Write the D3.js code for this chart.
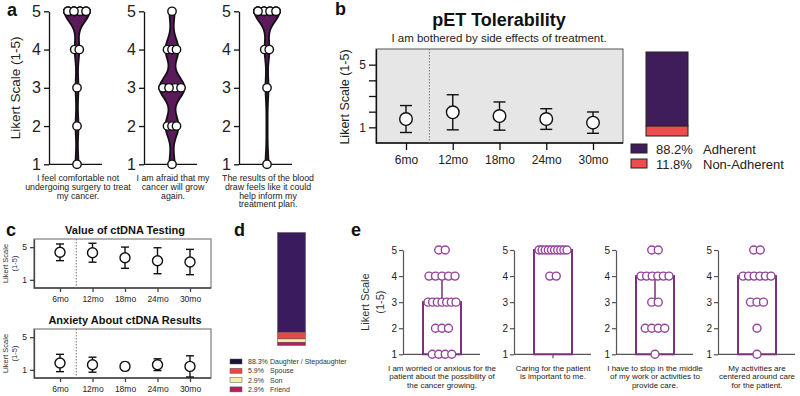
<!DOCTYPE html>
<html><head><meta charset="utf-8">
<script src="https://cdn.jsdelivr.net/npm/d3@7"></script>
<style>
body{margin:0;background:#fff;}
svg{display:block;font-family:Arial,"Liberation Sans",Helvetica,sans-serif;}
</style></head><body><svg id="chart" width="800" height="396"></svg>
<script>
// ---------- data ----------
const likertLevels = [1, 2, 3, 4, 5];
// panel a: response counts at Likert levels 1..5
const aQuestions = [
  ["I feel comfortable not", "undergoing surgery to treat", "my cancer."],
  ["I am afraid that my", "cancer will grow", "again."],
  ["The results of the blood", "draw feels like it could", "help inform my", "treatment plan."]
];
const aCountsQ1 = [1, 1, 1, 2, 14];
const aCountsQ2 = [1, 3, 6, 3, 1];
const aCountsQ3 = [1, 0, 1, 2, 13];
// panel b
const timepoints = ["6mo", "12mo", "18mo", "24mo", "30mo"];
const petMean = [1.53, 1.96, 1.72, 1.53, 1.30];
const petSD = [0.86, 1.12, 0.90, 0.66, 0.68];
const adherenceLabels = ["Adherent", "Non-Adherent"];
const adherencePct = [88.2, 11.8];
// panel c
const ctValueMean = [4.37, 4.32, 3.71, 3.34, 3.18];
const ctValueSD = [1.02, 1.16, 1.30, 1.59, 1.55];
const ctAnxMean = [1.84, 1.63, 1.42, 1.63, 1.42];
const ctAnxSD = [1.06, 0.92, 0.49, 0.72, 1.30];
// panel d
const relationLabels = ["Daughter / Stepdaughter", "Spouse", "Son", "Friend"];
const relationPct = [88.3, 5.9, 2.9, 2.9];
// panel e
const eQuestions = [
  ["I am worried or anxious for the", "patient about the possibility of", "the cancer growing."],
  ["Caring for the patient", "is important to me."],
  ["I have to stop in the middle", "of my work or activities to", "provide care."],
  ["My activities are", "centered around care", "for the patient."]
];
const eCountsQ1 = [4, 3, 7, 5, 2];
const eCountsQ2 = [0, 0, 0, 2, 10];
const eCountsQ3 = [1, 4, 2, 6, 2];
const eCountsQ4 = [1, 1, 3, 6, 2];
const eMedian = [3, 5, 4, 4];
const eLowerQ = [3, 5, 3, 4];
const eUpperQ = [4, 5, 4, 4];

// ---------- styles ----------
const violinFill = "#5b1b5b";
const bPurple = "#3f1c5a", bRed = "#ef4d4d";
const relColors = ["#3a1c5e", "#e5493f", "#f4f0a6", "#b51d5c"];
const ePurple = "#7e2f7e", ePoint = "#93449a";
const narrow = "'Liberation Sans Narrow','Arial Narrow',Arial,sans-serif";

const svg = d3.select("#chart");
function panelLabel(t, x, y) {
  svg.append("text").attr("x", x).attr("y", y).attr("font-weight", "bold")
    .attr("font-size", 18).attr("fill", "#111").text(t);
}
function multiline(lines, cx, y0, dy, size, fam) {
  const t = svg.append("text").attr("text-anchor", "middle").attr("font-size", size)
    .attr("fill", "#222").attr("font-family", fam || null);
  lines.forEach((l, i) => t.append("tspan").attr("x", cx).attr("y", y0 + i * dy).text(l));
}

// ---------- panel a ----------
panelLabel("a", 7, 16);
const aY = d3.scaleLinear().domain([1, 5]).range([164.3, 11.3]);
const aAxisX = [49, 144, 239];
const aCounts = [aCountsQ1, aCountsQ2, aCountsQ3];
svg.append("text").attr("transform", `translate(20,${(aY(1) + aY(5)) / 2}) rotate(-90)`)
  .attr("text-anchor", "middle").attr("font-size", 13.5).attr("fill", "#222").text("Likert Scale (1-5)");

aAxisX.forEach((ax, qi) => {
  const g = svg.append("g").attr("transform", `translate(${ax},0)`).style("color", "#111");
  g.call(d3.axisLeft(aY).tickValues(likertLevels).tickFormat(d3.format("d")).tickSize(5).tickPadding(3).tickSizeOuter(0))
    .call(s => s.selectAll("text").attr("font-size", 16).attr("fill", "#222"))
    .call(s => s.selectAll("path,line").attr("stroke-width", 1.3));
  const cx = ax + 28;
  svg.append("line").attr("x1", ax).attr("x2", ax + 53).attr("y1", aY(1)).attr("y2", aY(1))
    .attr("stroke", "#111").attr("stroke-width", 1.3);
  svg.append("line").attr("x1", cx).attr("x2", cx).attr("y1", aY(1)).attr("y2", aY(1) + 4)
    .attr("stroke", "#111").attr("stroke-width", 1.3);
  // violin via KDE
  const counts = aCounts[qi];
  const bw = 0.27;
  const dens = v => d3.sum(counts, (c, i) => c * Math.exp(-0.5 * ((v - likertLevels[i]) / bw) ** 2));
  const present = likertLevels.filter((l, i) => counts[i] > 0);
  const lo = d3.min(present), hi = d3.max(present);
  const samples = d3.range(lo, hi + 0.0001, 0.02).map(v => ({ v, d: dens(v) }));
  const maxD = d3.max(samples, s => s.d);
  const wScale = d3.scaleLinear().domain([0, maxD]).range([0.6, 12.5]);
  const area = d3.area().x0(s => cx - wScale(s.d)).x1(s => cx + wScale(s.d)).y(s => aY(s.v)).curve(d3.curveBasis);
  svg.append("path").datum(samples).attr("d", area).attr("fill", violinFill)
    .attr("stroke", "#111").attr("stroke-width", 1.8);
  // points
  counts.forEach((n, li) => {
    if (!n) return;
    const slots = Math.min(n, 4);
    const gap = n >= 4 ? 6 : 4.5;
    d3.range(n).forEach(k => {
      const s = k % slots;
      svg.append("circle").attr("cx", cx + (s - (slots - 1) / 2) * gap).attr("cy", aY(likertLevels[li]))
        .attr("r", 4.2).attr("fill", "#fff").attr("stroke", "#111").attr("stroke-width", 1.4);
    });
  });
  multiline(aQuestions[qi], cx + 1, 181, 8.8, 8.8, narrow);
});

// ---------- trend helper (panels b, c) ----------
function trendPlot(o) {
  const y = d3.scaleLinear().domain([0, 6]).range([o.bottom, o.top]);
  const x = d3.scalePoint().domain(timepoints).range([o.x0, o.x1]);
  svg.append("rect").attr("x", o.left).attr("y", o.top).attr("width", o.right - o.left)
    .attr("height", o.bottom - o.top).attr("fill", o.bg).attr("stroke", o.border).attr("stroke-width", o.bw);
  const gy = svg.append("g").attr("transform", `translate(${o.left},0)`).style("color", o.axisColor);
  gy.call(d3.axisLeft(y).tickValues(o.yTicks).tickFormat(d => (d === 1 || d === 5) ? d : "")
      .tickSize(o.tick).tickPadding(3).tickSizeOuter(0))
    .call(s => s.selectAll("text").attr("font-size", o.fs).attr("fill", "#222"))
    .call(s => s.selectAll("path,line").attr("stroke-width", 1.3));
  const gx = svg.append("g").attr("transform", `translate(0,${o.bottom})`).style("color", o.axisColor);
  gx.call(d3.axisBottom(x).tickSize(o.tick).tickPadding(o.xPad).tickSizeOuter(0))
    .call(s => s.select(".domain").remove())
    .call(s => s.selectAll("text").attr("font-size", o.fsx).attr("fill", "#222"))
    .call(s => s.selectAll("line").attr("stroke-width", 1.3));
  svg.append("line").attr("x1", o.left).attr("x2", o.right).attr("y1", o.bottom).attr("y2", o.bottom)
    .attr("stroke", o.axisColor).attr("stroke-width", 1.3);
  const dx = (x(timepoints[0]) + x(timepoints[1])) / 2;
  svg.append("line").attr("x1", dx).attr("x2", dx).attr("y1", o.top).attr("y2", o.bottom)
    .attr("stroke", "#777").attr("stroke-width", 1).attr("stroke-dasharray", "1.5,1.5");
  timepoints.forEach((t, i) => {
    const m = o.mean[i], s = o.sd[i], cx = x(t);
    svg.append("line").attr("x1", cx).attr("x2", cx).attr("y1", y(m - s)).attr("y2", y(m + s))
      .attr("stroke", "#111").attr("stroke-width", 1.4);
    [m - s, m + s].forEach(v => svg.append("line").attr("x1", cx - o.cap).attr("x2", cx + o.cap)
      .attr("y1", y(v)).attr("y2", y(v)).attr("stroke", "#111").attr("stroke-width", 1.4));
    svg.append("circle").attr("cx", cx).attr("cy", y(m)).attr("r", o.r).attr("fill", "#fff")
      .attr("stroke", "#111").attr("stroke-width", 1.4);
  });
}

// ---------- panel b ----------
panelLabel("b", 335, 15);
svg.append("text").attr("x", 499).attr("y", 26).attr("text-anchor", "middle").attr("font-weight", "bold")
  .attr("font-size", 18).attr("fill", "#111").text("pET Tolerability");
svg.append("text").attr("x", 499).attr("y", 42).attr("text-anchor", "middle")
  .attr("font-size", 11.5).attr("fill", "#222").text("I am bothered by side effects of treatment.");
svg.append("text").attr("transform", "translate(349,97) rotate(-90)").attr("text-anchor", "middle")
  .attr("font-size", 12.5).attr("fill", "#222").text("Likert Scale (1-5)");
trendPlot({ left: 376, right: 623, top: 49, bottom: 143, x0: 406, x1: 593, bg: "#e6e6e6", border: "#555", bw: 1,
  axisColor: "#111", yTicks: [1, 2, 3, 4, 5], tick: 7, fs: 12, fsx: 12, xPad: 5, mean: petMean, sd: petSD, cap: 6, r: 6.3 });
// stacked adherence bar
const bStackY = d3.scaleLinear().domain([0, 100]).range([136, 52]);
let cum = 100;
adherencePct.forEach((p, i) => {
  svg.append("rect").attr("x", 646).attr("width", 42).attr("y", bStackY(cum)).attr("height", bStackY(cum - p) - bStackY(cum))
    .attr("fill", i === 0 ? bPurple : bRed).attr("stroke", "#222").attr("stroke-width", 1);
  cum -= p;
});
adherenceLabels.forEach((l, i) => {
  const yy = 149 + i * 15;
  svg.append("rect").attr("x", 631).attr("y", yy - 5).attr("width", 16).attr("height", 9)
    .attr("fill", i === 0 ? bPurple : bRed).attr("stroke", "#222").attr("stroke-width", 1);
  svg.append("text").attr("x", 656).attr("y", yy + 4.5).attr("font-size", 13).attr("fill", "#222").text(adherencePct[i].toFixed(1) + "%");
  svg.append("text").attr("x", 703).attr("y", yy + 4.5).attr("font-size", 13).attr("fill", "#222").text(l);
});

// ---------- panel c ----------
panelLabel("c", 6, 236);
[[239, 288, "Value of ctDNA Testing", ctValueMean, ctValueSD, 234],
 [329, 378, "Anxiety About ctDNA Results", ctAnxMean, ctAnxSD, 324]].forEach(([top, bottom, title, mean, sd, ty]) => {
  svg.append("text").attr("x", 125).attr("y", ty).attr("text-anchor", "middle").attr("font-weight", "bold")
    .attr("font-size", 11).attr("fill", "#111").text(title);
  const cy = (top + bottom) / 2;
  const t = svg.append("text").attr("transform", `translate(0,${cy}) rotate(-90)`).attr("text-anchor", "middle")
    .attr("font-size", 7.5).attr("fill", "#333");
  t.append("tspan").attr("x", 0).attr("y", 8).text("Likert Scale");
  t.append("tspan").attr("x", 0).attr("y", 17).text("(1-5)");
  trendPlot({ left: 34, right: 211, top, bottom, x0: 60, x1: 190, bg: "#fff", border: "#888", bw: 1.3,
    axisColor: "#444", yTicks: [1, 5], tick: 4, fs: 8.5, fsx: 8.5, xPad: 4, mean, sd, cap: 4, r: 5 });
});

// ---------- panel d ----------
panelLabel("d", 234, 236);
const dY = d3.scaleLinear().domain([0, 100]).range([345.5, 232.5]);
cum = 100;
relationPct.forEach((p, i) => {
  svg.append("rect").attr("x", 277.5).attr("width", 28).attr("y", dY(cum)).attr("height", dY(cum - p) - dY(cum))
    .attr("fill", relColors[i]).attr("stroke", "#555").attr("stroke-width", 0.5);
  cum -= p;
});
relationLabels.forEach((l, i) => {
  const yy = 361.5 + i * 9.3;
  svg.append("rect").attr("x", 230).attr("y", yy - 2.5).attr("width", 12).attr("height", 5)
    .attr("fill", i === 0 ? "#1d1236" : relColors[i]).attr("stroke", "#555").attr("stroke-width", 0.5);
  svg.append("text").attr("x", 248).attr("y", yy + 2.5).attr("font-size", 7).attr("font-family", narrow)
    .attr("fill", "#333").text(relationPct[i].toFixed(1) + "%");
  svg.append("text").attr("x", 270).attr("y", yy + 2.5).attr("font-size", 7).attr("font-family", narrow)
    .attr("fill", "#333").text(l);
});

// ---------- panel e ----------
panelLabel("e", 351, 236);
const eY = d3.scaleLinear().domain([1, 5]).range([354.3, 250]);
const eAxisX = [403, 514, 616, 718];
const eCounts = [eCountsQ1, eCountsQ2, eCountsQ3, eCountsQ4];
{
  const t = svg.append("text").attr("transform", `translate(0,${(eY(1) + eY(5)) / 2}) rotate(-90)`)
    .attr("text-anchor", "middle").attr("font-size", 11).attr("fill", "#333");
  t.append("tspan").attr("x", 0).attr("y", 369).text("Likert Scale");
  t.append("tspan").attr("x", 0).attr("y", 384).text("(1-5)");
}
eAxisX.forEach((ax, qi) => {
  const cx = ax + 39;
  const g = svg.append("g").attr("transform", `translate(${ax},0)`).style("color", "#555");
  g.call(d3.axisLeft(eY).tickValues(likertLevels).tickFormat(d3.format("d")).tickSize(4).tickPadding(2).tickSizeOuter(0))
    .call(s => s.selectAll("text").attr("font-size", 10).attr("fill", "#222"))
    .call(s => s.selectAll("path,line").attr("stroke-width", 1.2));
  svg.append("line").attr("x1", ax).attr("x2", ax + 77).attr("y1", eY(1)).attr("y2", eY(1))
    .attr("stroke", "#555").attr("stroke-width", 1.2);
  svg.append("line").attr("x1", cx).attr("x2", cx).attr("y1", eY(1)).attr("y2", eY(1) + 4)
    .attr("stroke", "#555").attr("stroke-width", 1.2);
  svg.append("rect").attr("x", cx - 19).attr("width", 38).attr("y", eY(eMedian[qi]))
    .attr("height", eY(1) - eY(eMedian[qi])).attr("fill", "none").attr("stroke", ePurple).attr("stroke-width", 2);
  svg.append("line").attr("x1", cx).attr("x2", cx).attr("y1", eY(eLowerQ[qi])).attr("y2", eY(eUpperQ[qi]))
    .attr("stroke", ePurple).attr("stroke-width", 1.5);
  eCounts[qi].forEach((n, li) => {
    if (!n) return;
    const gap = n > 1 ? Math.min(6.5, 28 / (n - 1)) : 0;
    d3.range(n).forEach(k => {
      svg.append("circle").attr("cx", cx + (k - (n - 1) / 2) * gap).attr("cy", eY(likertLevels[li]))
        .attr("r", 4).attr("fill", "#fff").attr("stroke", ePoint).attr("stroke-width", 1.4);
    });
  });
  multiline(eQuestions[qi], cx, 371, 8.3, 8, narrow);
});
</script></body></html>
